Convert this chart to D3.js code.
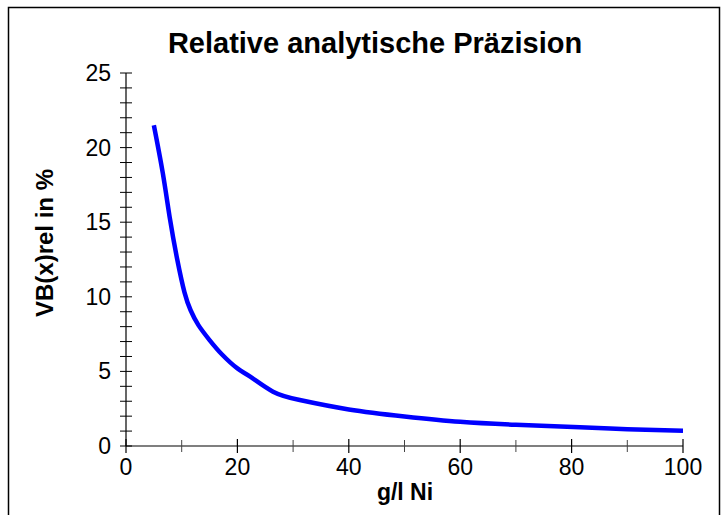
<!DOCTYPE html>
<html>
<head>
<meta charset="utf-8">
<script src="https://cdn.jsdelivr.net/npm/d3@7"></script>
<style>
html,body{margin:0;padding:0;background:#fff;}
svg{display:block;}
text{font-family:"Liberation Sans",Arial,sans-serif;}
</style>
</head>
<body>
<svg id="chart" width="727" height="515"></svg>
<script>
const title = "Relative analytische Präzision";
const xTitle = "g/l Ni";
const yTitle = "VB(x)rel in %";
const xValues = [5, 6.6, 7.9, 9.2, 10.5, 11.6, 13.0, 15.0, 17.2, 20, 22.3, 26.4, 31.2, 40, 50, 60, 70, 81.5, 90, 100];
const yValues = [21.5, 18.3, 15.2, 12.5, 10.3, 9.1, 8.1, 7.1, 6.15, 5.2, 4.65, 3.64, 3.08, 2.45, 1.98, 1.62, 1.42, 1.25, 1.13, 1.03];
const xTicks = [0, 20, 40, 60, 80, 100];
const xMinorTicks = [10, 30, 50, 70, 90];
const yTicks = [0, 5, 10, 15, 20, 25];
const yMinorTicks = d3.range(0, 26, 1);

const svg = d3.select("#chart");
svg.append("rect").attr("x", 8.5).attr("y", 7.5).attr("width", 711).attr("height", 520)
  .attr("fill", "none").attr("stroke", "#000").attr("stroke-width", 1.5);

const x = d3.scaleLinear().domain([0, 100]).range([126, 683]);
const y = d3.scaleLinear().domain([0, 25]).range([446, 73]);

// title
svg.append("text").attr("x", 375).attr("y", 53).attr("text-anchor", "middle")
  .attr("font-size", 29).attr("font-weight", "bold").text(title);

// y axis
const ya = svg.append("g");
ya.append("line").attr("x1", x(0)).attr("x2", x(0)).attr("y1", y(25)).attr("y2", y(0)).attr("stroke", "#000").attr("stroke-width", 1.2);
ya.selectAll("line.minor").data(yMinorTicks).enter().append("line")
  .attr("x1", x(0) - 6).attr("x2", x(0) + 6)
  .attr("y1", d => y(d)).attr("y2", d => y(d)).attr("stroke", "#000").attr("stroke-width", 1);
ya.selectAll("text").data(yTicks).enter().append("text")
  .attr("x", 111).attr("y", d => y(d) + 8).attr("text-anchor", "end")
  .attr("font-size", 23).text(d => d);

// x axis
const xa = svg.append("g");
xa.append("line").attr("x1", x(0)).attr("x2", x(100)).attr("y1", y(0)).attr("y2", y(0)).attr("stroke", "#000").attr("stroke-width", 1.2);
xa.selectAll("line.major").data(xTicks).enter().append("line")
  .attr("x1", d => x(d)).attr("x2", d => x(d))
  .attr("y1", y(0) - 7).attr("y2", y(0) + 7).attr("stroke", "#000").attr("stroke-width", 1.2);
xa.selectAll("line.minor").data(xMinorTicks).enter().append("line")
  .attr("x1", d => x(d)).attr("x2", d => x(d))
  .attr("y1", y(0) - 6).attr("y2", y(0) + 6).attr("stroke", "#444").attr("stroke-width", 1);
xa.selectAll("text").data(xTicks).enter().append("text")
  .attr("x", d => x(d)).attr("y", 475).attr("text-anchor", "middle")
  .attr("font-size", 23).text(d => d);

// axis titles
svg.append("text").attr("x", 405).attr("y", 500).attr("text-anchor", "middle")
  .attr("font-size", 23).attr("font-weight", "bold").text(xTitle);
svg.append("text").attr("transform", "translate(53,243) rotate(-90)").attr("text-anchor", "middle")
  .attr("font-size", 24).attr("font-weight", "bold").text(yTitle);

// curve
const data = xValues.map((v, i) => [v, yValues[i]]);
svg.append("path").datum(data)
  .attr("d", d3.line().x(d => x(d[0])).y(d => y(d[1])).curve(d3.curveNatural))
  .attr("fill", "none").attr("stroke", "#0000ff").attr("stroke-width", 4.5);
</script>
</body>
</html>
